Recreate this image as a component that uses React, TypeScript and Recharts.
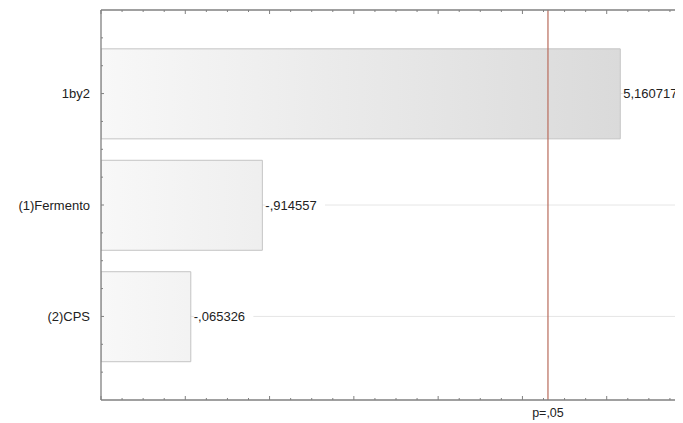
import { Bar, ComposedChart, CartesianGrid, LabelList, Line, ReferenceLine, XAxis, YAxis } from 'recharts'

const effects = ['1by2', '(1)Fermento', '(2)CPS']
const tValues = [5.160717, 0.914557, 0.065326]
const valueLabels = ['5,160717', '-,914557', '-,065326']

const critT = 4.303
const critLabel = 'p=,05'

const xDomain: [number, number] = [-1, 6]
const xTicks = [
  -1, -0.75, -0.5, -0.25, 0, 0.25, 0.5, 0.75, 1, 1.25, 1.5, 1.75, 2, 2.25, 2.5, 2.75, 3, 3.25, 3.5,
  3.75, 4, 4.25, 4.5, 4.75, 5, 5.25, 5.5, 5.75, 6,
]
const yDomain: [number, number] = [-0.75, 2.75]
const yTicks = [-0.5, -0.25, 0, 0.25, 0.5, 0.75, 1, 1.25, 1.5, 1.75, 2, 2.25, 2.5]

const FONT = '"Liberation Sans", Arial, sans-serif'
const AXIS = '#808080'

const data = effects.map((name, i) => ({
  pos: i,
  name,
  t: tValues[i],
  range: [xDomain[0], tValues[i]],
  label: valueLabels[i],
}))

function BottomTick({ x, y, payload }: any) {
  const major = Number.isInteger(payload.value)
  return <line x1={x} x2={x} y1={y} y2={y - (major ? 4 : 2)} stroke={AXIS} strokeWidth={1} />
}

function TopTick({ x, y, payload }: any) {
  const major = Number.isInteger(payload.value)
  return <line x1={x} x2={x} y1={y} y2={y + (major ? 4 : 2)} stroke={AXIS} strokeWidth={1} />
}

function LeftTick({ x, y, payload }: any) {
  const v = payload.value
  const isCat = Number.isInteger(v)
  return (
    <g>
      <line x1={x} x2={x + (isCat ? 3 : 2)} y1={y} y2={y} stroke={AXIS} strokeWidth={1} />
      {isCat && effects[v] !== undefined && (
        <text x={x - 11} y={y} textAnchor="end" dominantBaseline="central" fontSize={13} fontFamily={FONT} fill="#222">
          {effects[v]}
        </text>
      )}
    </g>
  )
}

function ValueLabel({ x, y, width, height, value }: any) {
  const tx = x + width + 3
  const cy = y + height / 2
  return (
    <g>
      <rect x={tx} y={cy - 8} width={String(value).length * 7.2 + 2} height={16} fill="#fff" />
      <text x={tx} y={cy} dominantBaseline="central" fontSize={13} fontFamily={FONT} fill="#222">
        {value}
      </text>
    </g>
  )
}

export default function App() {
  return (
    <div style={{ width: 675, height: 415, overflow: 'hidden' }}>
      <ComposedChart
        width={700}
        height={415}
        data={data}
        layout="vertical"
        margin={{ top: 1, right: 17, bottom: 0, left: 0 }}
      >
        <defs>
          <linearGradient id="barFill" gradientUnits="userSpaceOnUse" x1={93} y1={0} x2={683} y2={0}>
            <stop offset="0%" stopColor="#f8f8f8" />
            <stop offset="100%" stopColor="#d6d6d6" />
          </linearGradient>
        </defs>
        <CartesianGrid horizontal vertical={false} horizontalValues={[0, 1, 2]} stroke="#e6e6e6" />
        <XAxis
          type="number"
          domain={xDomain}
          ticks={xTicks}
          interval={0}
          allowDataOverflow
          height={23}
          tickSize={0}
          tickMargin={0}
          tick={<BottomTick />}
          axisLine={{ stroke: AXIS, strokeWidth: 1.3 }}
        />
        <XAxis
          xAxisId="top"
          orientation="top"
          type="number"
          domain={xDomain}
          ticks={xTicks}
          interval={0}
          allowDataOverflow
          height={1}
          tickSize={0}
          tickMargin={0}
          tick={<TopTick />}
          axisLine={{ stroke: AXIS, strokeWidth: 1.3 }}
        />
        <YAxis
          type="number"
          dataKey="pos"
          domain={yDomain}
          ticks={yTicks}
          interval={0}
          allowDataOverflow
          width={93}
          tickSize={0}
          tickMargin={0}
          tick={<LeftTick />}
          axisLine={{ stroke: AXIS, strokeWidth: 1.3 }}
        />
        <Bar
          dataKey="range"
          barSize={90}
          fill="url(#barFill)"
          stroke="#c4c4c4"
          strokeWidth={1}
          isAnimationActive={false}
        >
          <LabelList dataKey="label" content={<ValueLabel />} />
        </Bar>
        {/* keeps the top frame axis alive; draws nothing */}
        <Line
          xAxisId="top"
          dataKey="t"
          stroke="none"
          dot={false}
          activeDot={false}
          legendType="none"
          isAnimationActive={false}
        />
        <ReferenceLine
          x={critT}
          stroke="#b86b5b"
          strokeWidth={1.2}
          label={{ value: critLabel, position: 'bottom', offset: 8, fontSize: 12.5, fontFamily: FONT, fill: '#222' }}
        />
      </ComposedChart>
    </div>
  )
}
